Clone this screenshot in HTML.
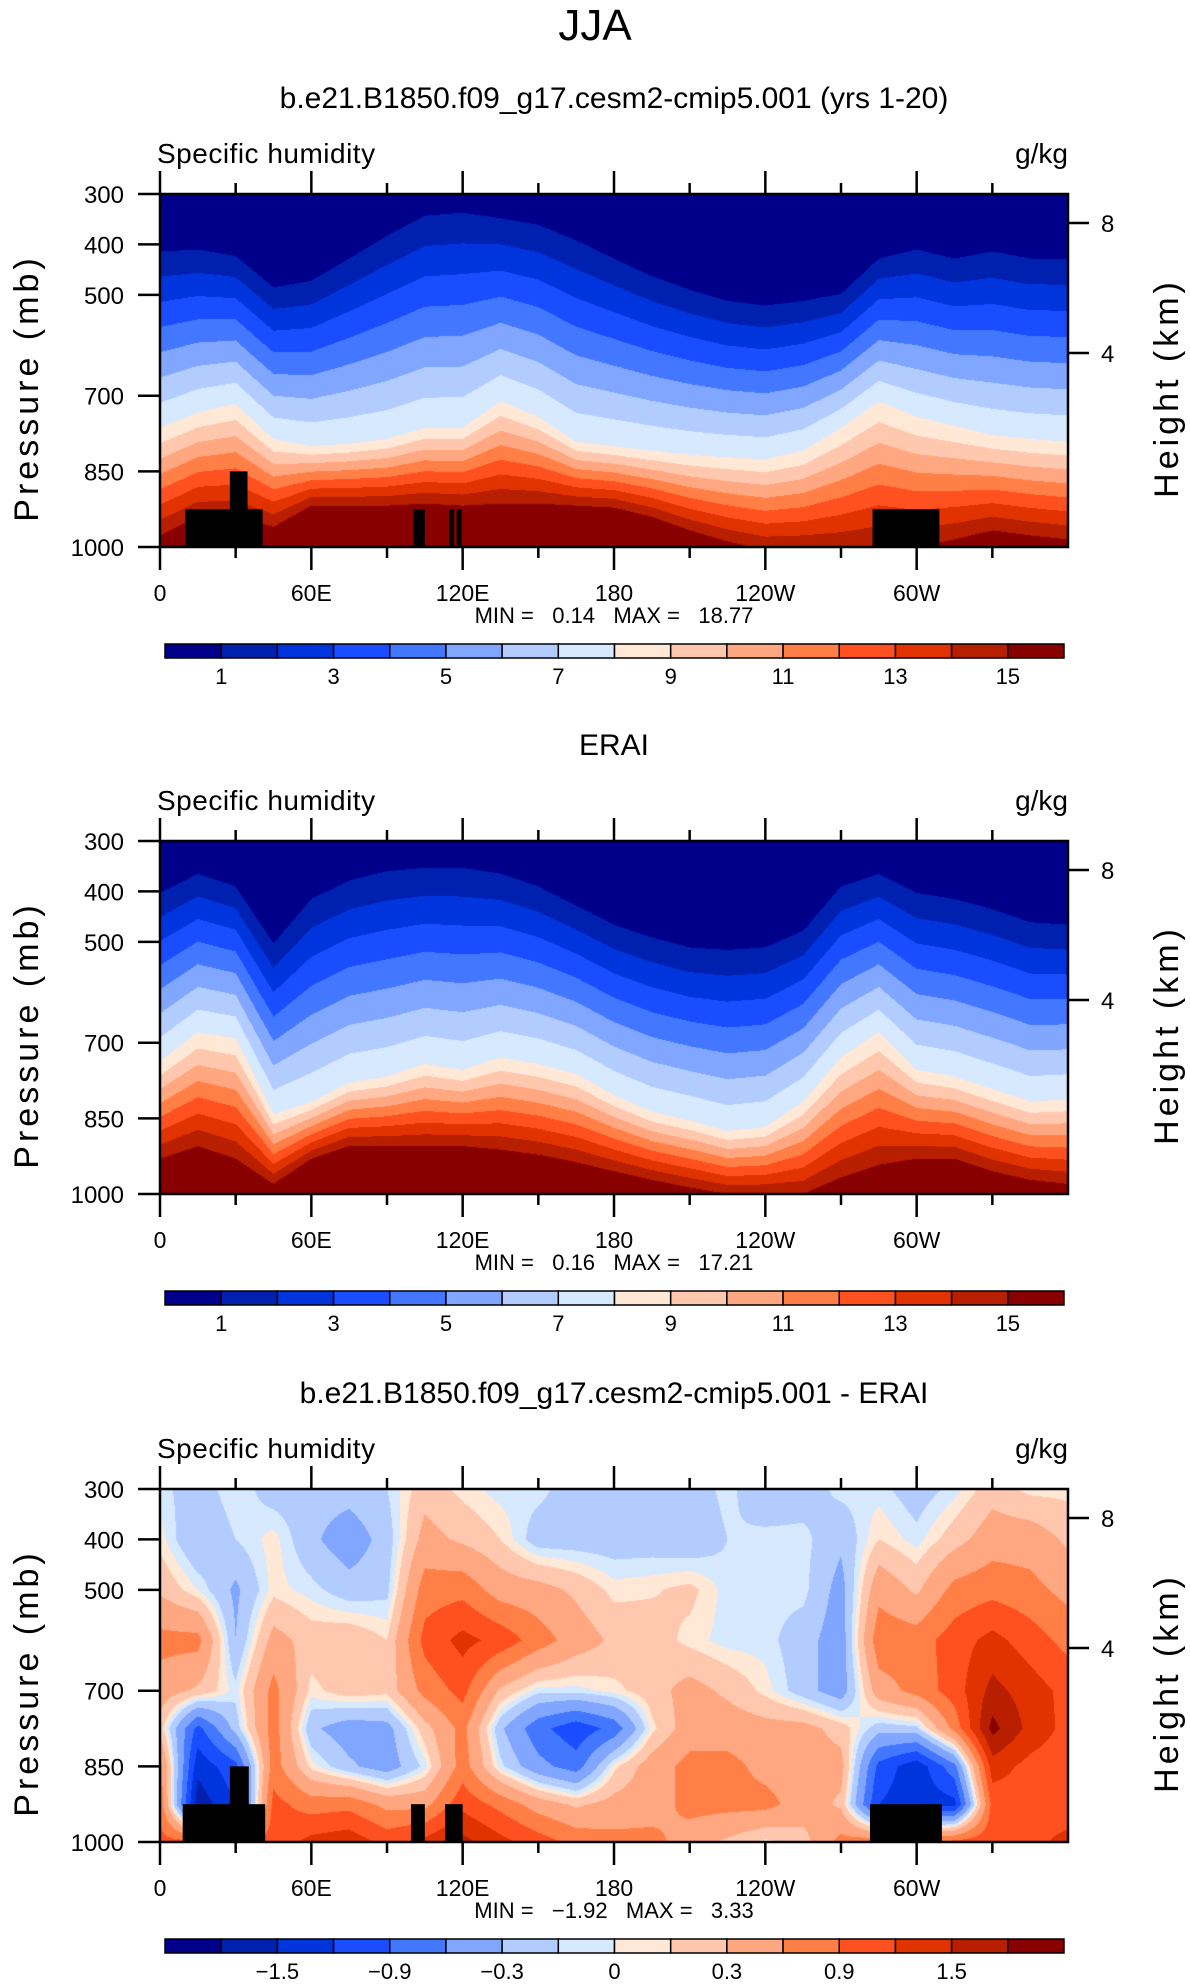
<!DOCTYPE html>
<html><head><meta charset="utf-8">
<style>
html,body{margin:0;padding:0;background:#fff;}
#root{position:relative;width:1190px;height:1987px;overflow:hidden;background:#fff;font-family:"Liberation Sans",sans-serif;}
canvas{position:absolute;left:160px;width:908px;height:353px;}
svg{position:absolute;left:0;top:0;}
.pre{white-space:pre;}
</style></head>
<body>
<div id="root">
<canvas id="c0" width="908" height="353" style="top:194px"></canvas>
<canvas id="c1" width="908" height="353" style="top:841px"></canvas>
<canvas id="c2" width="908" height="353" style="top:1489px"></canvas>
<svg id="ov" width="1190" height="1987">
<text x="595" y="40" font-size="44" text-anchor="middle" font-family="Liberation Sans, sans-serif">JJA</text>
</svg>
</div>
<script>
// ---------- data ----------
const lonSamples = [0,15,30,45,60,75,90,105,120,135,150,165,180,195,210,225,240,255,270,285,300,315,330,345,360];
// Model: pressure (mb) of q=1, q=8, q=15 contours
const modelP1  = [414,410,423,485,472,428,383,343,337,348,361,392,428,463,490,512,521,512,498,428,410,428,414,428,428];
const modelP8  = [764,733,716,786,800,795,786,764,764,711,742,791,800,809,817,822,826,809,764,711,742,760,778,786,791];
const modelP15 = [977,940,940,960,918,918,918,914,918,914,914,918,922,940,967,989,1005,1005,1005,1000,1000,985,967,977,985];
// ERAI
const eraiP1  = [403,365,390,503,415,378,360,353,353,365,390,428,466,491,511,516,511,478,390,365,403,415,435,461,466];
const eraiP8  = [737,679,691,842,817,779,767,742,754,729,742,762,804,837,854,875,867,817,729,679,754,767,792,817,812];
const eraiP15 = [930,905,930,980,930,905,905,905,905,912,922,937,955,972,987,1000,1000,1000,967,942,930,930,955,972,980];
// Difference grid (g/kg), rows by pressure
const diffLevels = [300,400,500,600,700,775,850,925,1000];
const diff300  = [-0.05,-0.2,0,-0.2,-0.2,-0.2,-0.1,0.2,0.05,-0.05,-0.05,-0.2,-0.2,-0.2,-0.2,-0.05,-0.25,-0.2,-0.05,-0.05,-0.2,-0.05,0.2,0.05,0.05];
const diff400  = [0.05,-0.3,-0.1,0.05,-0.25,-0.45,-0.2,0.4,0.25,0.1,-0.2,-0.2,-0.2,-0.2,-0.25,-0.1,-0.05,-0.05,-0.25,0.1,-0.05,0.2,0.45,0.45,0.25];
const diff500  = [0.25,0,-0.35,0.05,-0.05,-0.2,-0.15,0.75,0.8,0.45,0.4,0.25,0.05,0.08,0.15,-0.05,-0.05,-0.05,-0.4,0.5,0.25,0.7,0.8,0.7,0.5];
const diff600  = [0.7,0.7,-0.3,0.4,0.2,0.25,0.1,1.0,1.3,1.1,0.75,0.45,0.25,0.2,0.05,-0.05,-0.05,-0.2,-0.45,0.8,0.75,1.05,1.3,1.05,0.8];
const diff700  = [0.45,0.25,-0.05,0.7,0.05,0.2,0.15,0.7,1.0,0.25,-0.05,-0.05,0.05,0.2,0.4,0.25,0.05,-0.2,-0.45,0.45,0.7,1.05,1.6,1.35,1.1];
const diff775  = [0.2,-1.0,-0.2,0.75,-0.25,-0.45,-0.4,0.2,0.7,-0.25,-0.8,-1.1,-0.8,0.05,0.45,0.45,0.4,0.4,0.2,-0.2,-0.15,0.7,1.9,1.4,1.1];
const diff850  = [0.7,-1.4,-1.0,0.75,0.05,-0.25,-0.45,-0.05,0.75,-0.05,-0.5,-0.75,0.05,0.45,0.7,0.7,0.5,0.45,0.4,-1.0,-1.4,-0.7,1.35,1.1,1.0];
const diff925  = [0.8,-1.7,-1.2,1.0,0.75,0.8,0.5,0.5,1.1,0.8,0.45,0.25,0.4,0.45,0.7,0.7,0.7,0.45,0.25,-1.2,-1.4,-1.3,1.0,1.1,1.0];
const diff1000 = [1.0,1.0,1.0,1.0,1.3,1.4,1.1,1.3,1.6,1.3,1.05,0.8,0.7,0.7,0.45,0.25,0.05,0.2,0.7,0.8,0.8,1.0,1.1,1.1,1.3];
// Topography boxes [lon0, lon1, topPressure]
const topoModel = [[10,40.7,925],[27.7,34.7,850],[100.5,105,925],[114.6,116.6,925],[117.6,119.6,925],[282.5,309,925]];
const topoDiff  = [[9,41.7,925],[27.7,35.2,850],[99.5,105,925],[113,120,925],[281.5,310,925]];
// Color scales
const colors = ["#00008b","#0020b0","#0035dd","#1a4dff","#4477ff","#80a6ff","#b3ccff","#d6e9ff","#ffe8d6","#ffc8ae","#ffa780","#ff7f47","#ff5020","#e03300","#b81e00","#880000"];
const qBounds = [1,2,3,4,5,6,7,8,9,10,11,12,13,14,15];
const dBounds = [-1.8,-1.5,-1.2,-0.9,-0.6,-0.3,-0.1,0,0.1,0.3,0.6,0.9,1.2,1.5,1.8];
const qLabels = ["1","3","5","7","9","11","13","15"];
const dLabels = ["\u22121.5","\u22120.9","\u22120.3","0","0.3","0.9","1.5"];
const xTickLabels = ["0","60E","120E","180","120W","60W"];
const yTickVals = [300,400,500,700,850,1000];
const minmax = [["0.14","18.77"],["0.16","17.21"],["\u22121.92","3.33"]];
const titles = ["b.e21.B1850.f09_g17.cesm2-cmip5.001 (yrs 1-20)","ERAI","b.e21.B1850.f09_g17.cesm2-cmip5.001 - ERAI"];

// ---------- axes ----------
const PL=160, PW=908, PH=353, TOPS=[194,841,1489];
const xOf = lon => PL + lon*PW/360;
const yOf = (p,top) => top + (p-300)*PH/700;
function hexRGB(h){return [parseInt(h.substr(1,2),16),parseInt(h.substr(3,2),16),parseInt(h.substr(5,2),16)];}
const rgb = colors.map(hexRGB);
function band(v,b){let i=0;while(i<b.length&&v>=b[i])i++;return i;}
function interpLon(arr,lon){const s=lon/15;const i=Math.min(23,Math.floor(s));const f=s-i;return arr[i]*(1-f)+arr[i+1]*f;}
function drawQ(id,P1,P8,P15){
  const cv=document.getElementById(id),ctx=cv.getContext('2d'),im=ctx.createImageData(PW,PH);
  for(let x=0;x<PW;x++){
    const lon=(x+0.5)*360/PW;
    const a=interpLon(P1,lon),b=interpLon(P8,lon),c=interpLon(P15,lon);
    for(let y=0;y<PH;y++){
      const p=300+(y+0.5)*700/PH;let q;
      if(p<a)q=0.5;else if(p<b)q=1+7*(p-a)/(b-a);else if(p<c)q=8+7*(p-b)/(c-b);else q=15.5;
      const col=rgb[band(q,qBounds)],k=(y*PW+x)*4;
      im.data[k]=col[0];im.data[k+1]=col[1];im.data[k+2]=col[2];im.data[k+3]=255;
    }
  }
  ctx.putImageData(im,0,0);
}
function drawDiff(id){
  const rows=[diff300,diff400,diff500,diff600,diff700,diff775,diff850,diff925,diff1000];
  const cv=document.getElementById(id),ctx=cv.getContext('2d'),im=ctx.createImageData(PW,PH);
  for(let y=0;y<PH;y++){
    const p=300+(y+0.5)*700/PH;let j=0;while(j<diffLevels.length-2&&p>diffLevels[j+1])j++;
    const g=Math.min(1,Math.max(0,(p-diffLevels[j])/(diffLevels[j+1]-diffLevels[j])));
    for(let x=0;x<PW;x++){
      const lon=(x+0.5)*360/PW;
      const v=interpLon(rows[j],lon)*(1-g)+interpLon(rows[j+1],lon)*g;
      const col=rgb[band(v,dBounds)],k=(y*PW+x)*4;
      im.data[k]=col[0];im.data[k+1]=col[1];im.data[k+2]=col[2];im.data[k+3]=255;
    }
  }
  ctx.putImageData(im,0,0);
}
drawQ('c0',modelP1,modelP8,modelP15);
drawQ('c1',eraiP1,eraiP8,eraiP15);
drawDiff('c2');

const NS="http://www.w3.org/2000/svg", ov=document.getElementById('ov');
function el(tag,attrs,txt){const e=document.createElementNS(NS,tag);for(const k in attrs)e.setAttribute(k,attrs[k]);if(txt!==undefined)e.textContent=txt;ov.appendChild(e);return e;}
const F="Liberation Sans, sans-serif";
TOPS.forEach((T,pi)=>{
  let e;
  e=el('text',{x:614,y:T-86,'font-size':30,'text-anchor':'middle','font-family':F},titles[pi]);
  
  
  e=el('text',{x:157,y:T-31,'font-size':28,'font-family':F,'letter-spacing':'0.5'},'Specific humidity');
  
  
  e=el('text',{x:1068,y:T-31,'font-size':28,'text-anchor':'end','font-family':F},'g/kg');
  
  
  const topo = pi===0?topoModel:(pi===2?topoDiff:[]);
  topo.forEach(b=>{
    e=el('rect',{x:xOf(b[0]),y:yOf(b[2],T),width:xOf(b[1])-xOf(b[0]),height:yOf(1000,T)-yOf(b[2],T),fill:'#000'});
    
    
  });
  e=el('rect',{x:PL,y:T,width:PW,height:PH,fill:'none',stroke:'#000','stroke-width':2.5});
  
  
  for(let lon=0;lon<360;lon+=30){
    const L=lon%60===0?23:11,x=xOf(lon);
    el('line',{x1:x,x2:x,y1:T,y2:T-L,stroke:'#000','stroke-width':2.5});
    el('line',{x1:x,x2:x,y1:T+PH,y2:T+PH+L,stroke:'#000','stroke-width':2.5});
  }
  xTickLabels.forEach((s,i)=>{
    e=el('text',{x:xOf(i*60),y:T+PH+54,'font-size':23,'text-anchor':'middle','font-family':F},s);
    
    
  });
  yTickVals.forEach(v=>{
    const y=yOf(v,T);
    el('line',{x1:PL-22,x2:PL,y1:y,y2:y,stroke:'#000','stroke-width':2.5});
    e=el('text',{x:124,y:y+9,'font-size':24,'text-anchor':'end','font-family':F},String(v));
    
    
  });
  [[8,29],[4,159]].forEach(h=>{
    const y=T+h[1];
    el('line',{x1:PL+PW,x2:PL+PW+21,y1:y,y2:y,stroke:'#000','stroke-width':2.5});
    e=el('text',{x:1101,y:y+9,'font-size':24,'font-family':F},String(h[0]));
    
    
  });
  e=el('text',{x:0,y:0,'font-size':34,'text-anchor':'middle','font-family':F,'letter-spacing':'4',transform:`translate(38,${T+194}) rotate(-90)`},'Pressure (mb)');
  
  
  e=el('text',{x:0,y:0,'font-size':34,'text-anchor':'middle','font-family':F,'letter-spacing':'4',transform:`translate(1178,${T+194}) rotate(-90)`},'Height (km)');
  
  
  e=el('text',{x:614,y:T+429,'font-size':22,'text-anchor':'middle','font-family':F,'class':'pre'},`MIN =   ${minmax[pi][0]}   MAX =   ${minmax[pi][1]}`);
  
  
  const cy=T+450,cx=165,cw=899/16;
  colors.forEach((c,i)=>{
    e=el('rect',{x:cx+i*cw,y:cy,width:cw,height:14,fill:c,stroke:'#000','stroke-width':1.5});
    
    
  });
  const labs = pi===2?dLabels:qLabels;
  const first = pi===2?2:1;
  labs.forEach((s,i)=>{
    e=el('text',{x:cx+(first+2*i)*cw,y:cy+40,'font-size':22,'text-anchor':'middle','font-family':F},s);
    
    
  });
});
</script>
</body></html>
